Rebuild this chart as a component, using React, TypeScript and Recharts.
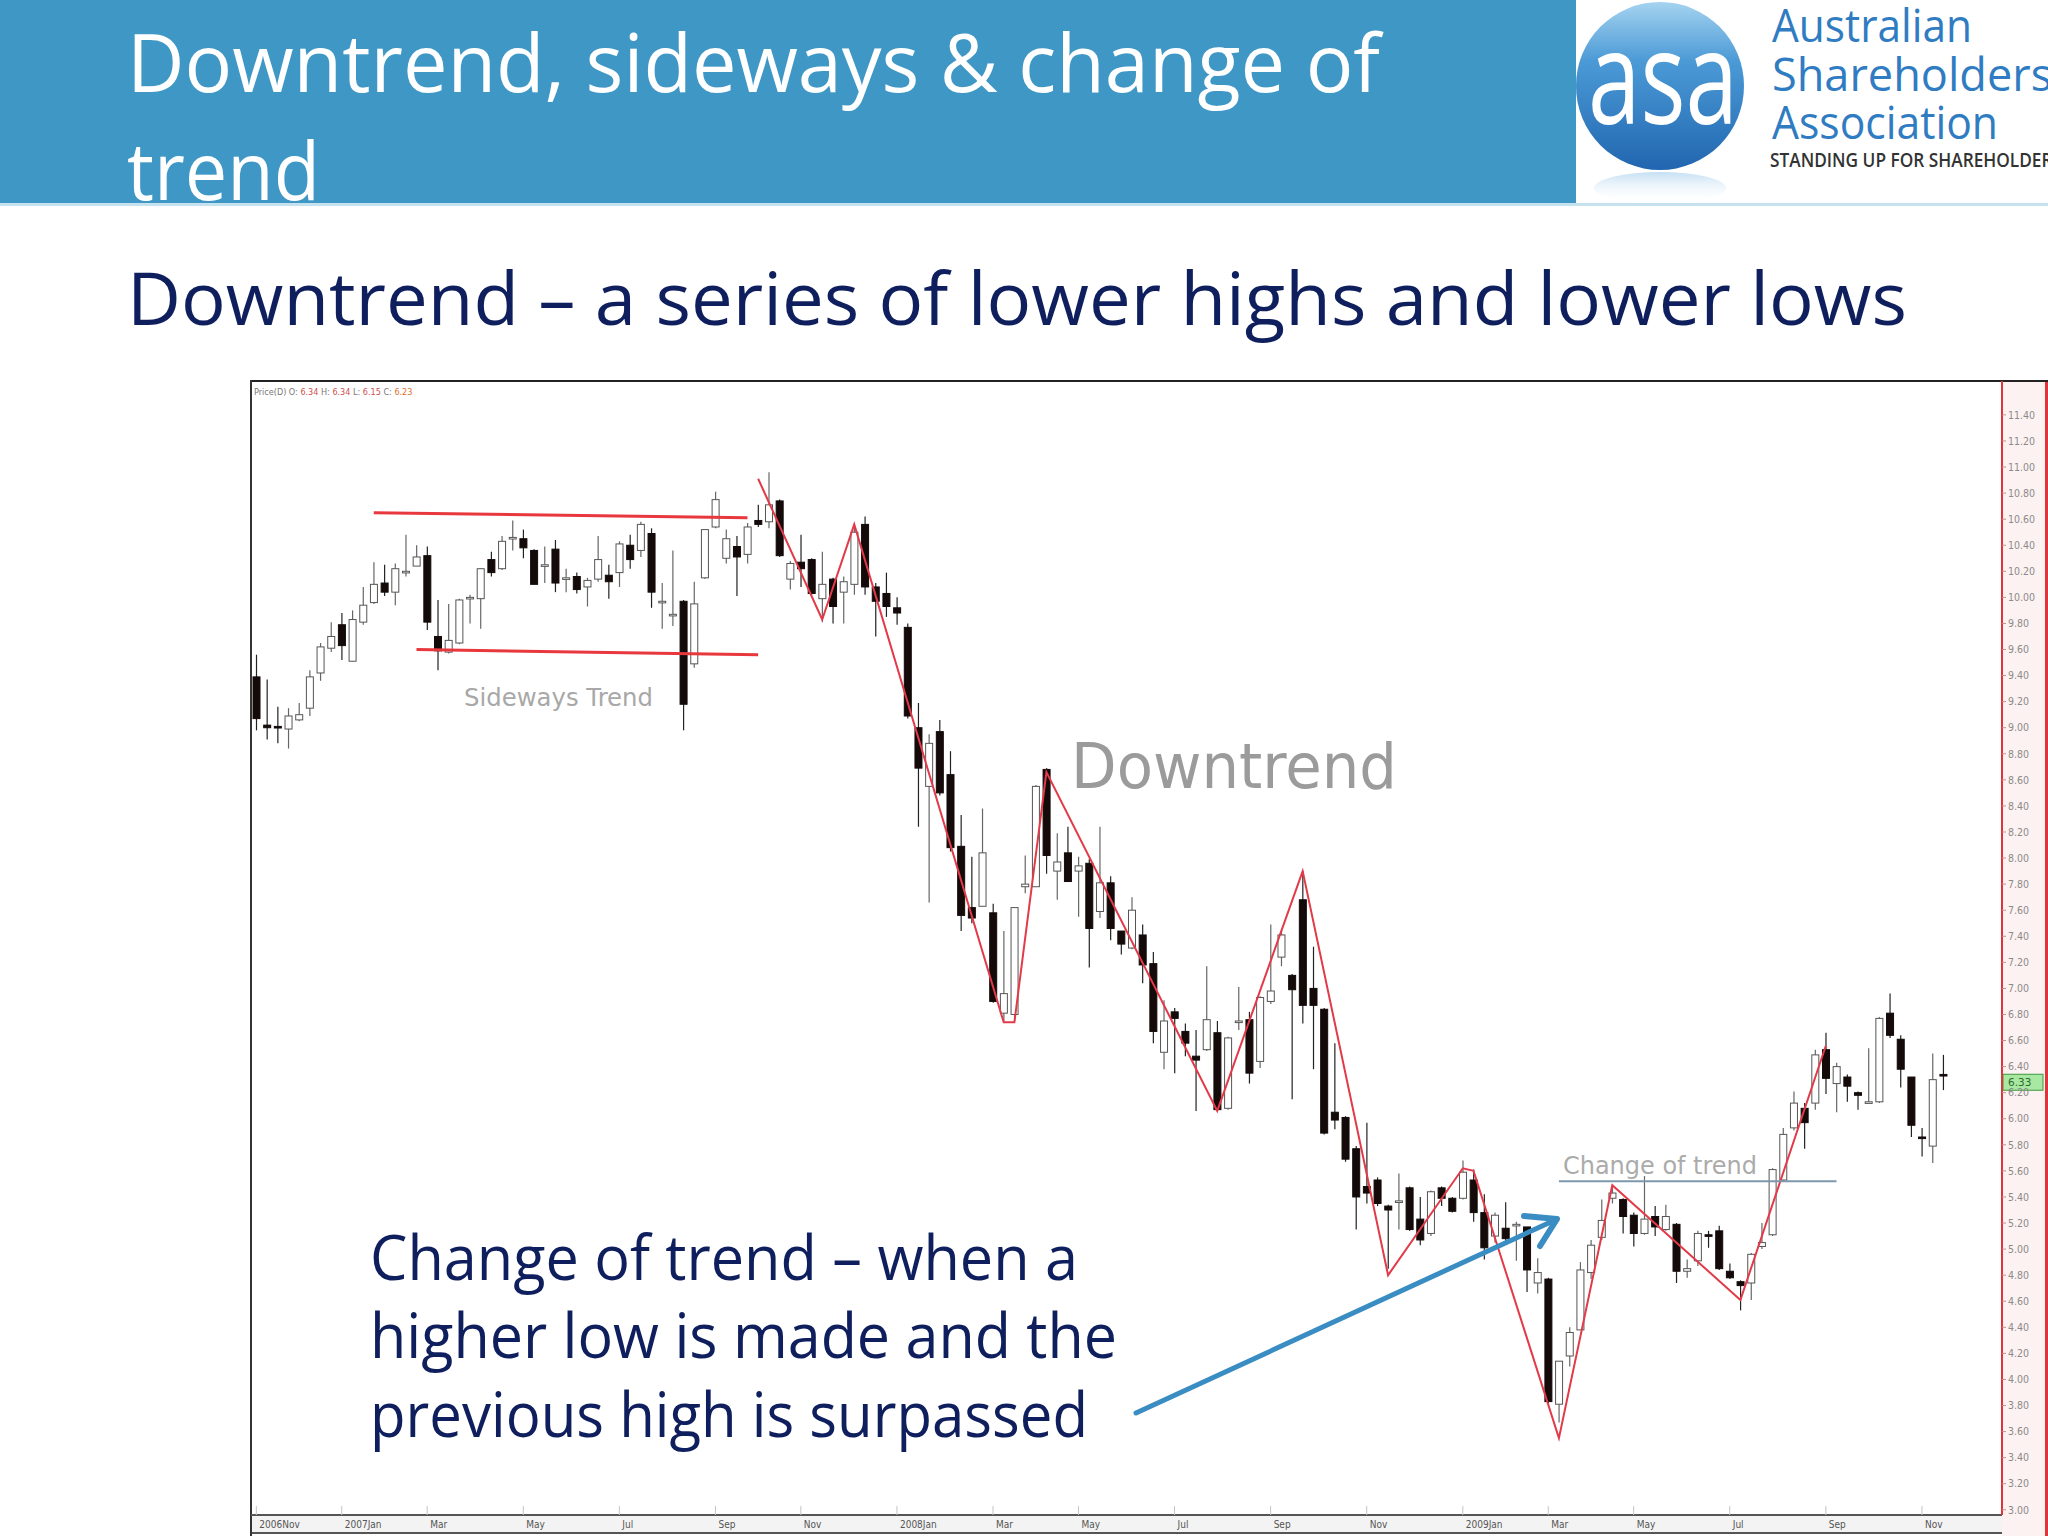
import React from 'react';
import { ComposedChart, Bar, Line, XAxis, YAxis, ReferenceLine } from 'recharts';

// weekly candles, Nov 2006 .. Nov 2009
const opens = [
  9.39, 9.02, 9.01, 8.99, 9.06, 9.15, 9.42, 9.61, 9.79, 9.51,
  9.81, 9.96, 10.11, 10.04, 10.19, 10.24, 10.32, 9.70, 9.58, 9.65,
  9.99, 9.99, 10.29, 10.22, 10.45, 10.45, 10.36, 10.24, 10.37, 10.14,
  10.16, 10.08, 10.14, 10.17, 10.19, 10.40, 10.36, 10.49, 9.96, 9.86,
  9.97, 9.49, 10.15, 10.54, 10.30, 10.39, 10.33, 10.59, 10.58, 10.74,
  10.14, 10.27, 10.29, 9.99, 10.14, 10.04, 10.10, 10.56, 10.08, 10.03,
  9.92, 9.77, 9.00, 8.55, 8.97, 8.64, 8.09, 7.62, 7.63, 7.58,
  6.81, 6.80, 7.78, 7.78, 8.68, 7.90, 8.04, 7.90, 7.96, 7.59,
  7.81, 7.44, 7.31, 7.41, 7.19, 6.51, 6.82, 6.67, 6.48, 6.53,
  6.66, 6.08, 6.74, 6.76, 6.44, 6.90, 7.24, 7.10, 7.68, 7.00,
  6.84, 6.05, 6.01, 5.77, 5.48, 5.53, 5.33, 5.36, 5.47, 5.23,
  5.12, 5.47, 5.39, 5.39, 5.53, 5.28, 5.10, 5.16, 5.18, 5.17,
  4.74, 4.77, 3.81, 4.18, 4.38, 4.82, 5.09, 5.39, 5.38, 5.26,
  5.12, 5.25, 5.15, 5.19, 4.83, 4.91, 5.11, 5.14, 4.83, 4.75,
  4.74, 5.02, 5.11, 5.53, 5.93, 6.08, 6.12, 6.53, 6.27, 6.32,
  6.20, 6.13, 6.13, 6.81, 6.61, 6.32, 5.86, 5.79, 6.34,
];
const highs = [
  9.56, 9.37, 9.16, 9.15, 9.19, 9.44, 9.65, 9.81, 9.88, 9.90,
  10.08, 10.27, 10.25, 10.26, 10.48, 10.40, 10.39, 9.98, 9.95, 9.99,
  10.02, 10.22, 10.35, 10.47, 10.59, 10.52, 10.37, 10.39, 10.44, 10.22,
  10.19, 10.15, 10.47, 10.25, 10.43, 10.48, 10.58, 10.53, 10.11, 10.36,
  9.98, 10.12, 10.52, 10.81, 10.52, 10.47, 10.57, 10.71, 10.96, 10.75,
  10.28, 10.48, 10.30, 10.35, 10.15, 10.16, 10.55, 10.62, 10.11, 10.19,
  10.00, 9.80, 9.19, 8.95, 9.06, 8.82, 8.33, 8.01, 8.38, 7.65,
  7.44, 7.62, 8.02, 8.56, 8.69, 8.19, 8.24, 8.01, 7.99, 8.24,
  7.86, 7.44, 7.70, 7.49, 7.28, 6.91, 6.85, 6.73, 6.68, 7.17,
  6.75, 6.63, 7.01, 6.82, 6.94, 7.49, 7.45, 7.11, 7.90, 7.32,
  6.85, 6.58, 6.02, 5.79, 5.97, 5.55, 5.34, 5.58, 5.48, 5.40,
  5.45, 5.48, 5.40, 5.68, 5.61, 5.42, 5.28, 5.36, 5.21, 5.17,
  4.93, 4.78, 4.14, 4.40, 4.90, 5.07, 5.38, 5.48, 5.39, 5.28,
  5.56, 5.33, 5.34, 5.20, 4.92, 5.14, 5.14, 5.18, 4.89, 4.76,
  4.97, 5.20, 5.62, 5.93, 6.21, 6.12, 6.53, 6.66, 6.43, 6.34,
  6.21, 6.54, 6.78, 6.96, 6.64, 6.32, 5.93, 6.50, 6.49,
];
const lows = [
  8.98, 8.91, 8.88, 8.84, 9.05, 9.09, 9.36, 9.58, 9.52, 9.51,
  9.79, 9.95, 10.01, 9.94, 10.16, 10.24, 9.75, 9.44, 9.57, 9.64,
  9.80, 9.76, 10.16, 10.21, 10.36, 10.30, 10.10, 10.11, 10.04, 10.04,
  10.03, 9.93, 10.12, 9.99, 10.08, 10.22, 10.31, 9.92, 9.76, 9.78,
  8.98, 9.46, 10.14, 10.53, 10.26, 10.01, 10.26, 10.54, 10.53, 10.31,
  10.06, 10.08, 10.02, 9.81, 9.80, 9.80, 10.02, 10.02, 9.70, 9.85,
  9.79, 9.07, 8.24, 7.66, 8.48, 8.05, 7.44, 7.50, 7.63, 6.89,
  6.75, 6.75, 7.73, 7.78, 7.88, 7.68, 7.82, 7.55, 7.16, 7.54,
  7.37, 7.26, 7.30, 7.04, 6.58, 6.38, 6.35, 6.48, 6.06, 6.52,
  6.06, 6.07, 6.68, 6.27, 6.39, 6.88, 7.17, 6.15, 6.73, 6.38,
  5.88, 5.92, 5.67, 5.15, 5.35, 5.33, 4.85, 5.15, 5.14, 5.03,
  5.10, 5.33, 5.28, 5.38, 5.21, 4.92, 5.05, 5.04, 4.91, 4.67,
  4.66, 3.82, 3.67, 4.10, 4.38, 4.77, 5.07, 5.35, 5.12, 5.02,
  5.11, 5.10, 5.14, 4.74, 4.78, 4.87, 5.01, 4.84, 4.77, 4.53,
  4.61, 5.00, 5.10, 5.52, 5.91, 5.77, 6.07, 6.19, 6.05, 6.13,
  6.07, 6.12, 6.12, 6.62, 6.24, 5.86, 5.71, 5.66, 6.22,
];
const closes = [
  9.07, 9.00, 9.00, 9.09, 9.10, 9.39, 9.62, 9.70, 9.63, 9.83,
  9.94, 10.10, 10.04, 10.22, 10.20, 10.31, 9.81, 9.59, 9.67, 9.98,
  10.00, 10.22, 10.19, 10.43, 10.46, 10.38, 10.10, 10.25, 10.11, 10.15,
  10.06, 10.13, 10.29, 10.12, 10.41, 10.29, 10.56, 10.04, 9.97, 9.87,
  9.18, 9.95, 10.52, 10.75, 10.45, 10.31, 10.54, 10.56, 10.71, 10.32,
  10.26, 10.22, 10.03, 10.10, 9.93, 10.12, 10.50, 10.08, 9.97, 9.93,
  9.88, 9.09, 8.69, 8.88, 8.50, 8.08, 7.56, 7.54, 8.04, 6.90,
  6.96, 7.62, 7.80, 8.55, 8.02, 7.97, 7.82, 7.94, 7.46, 7.81,
  7.46, 7.34, 7.60, 7.18, 6.67, 6.75, 6.77, 6.58, 6.45, 6.76,
  6.07, 6.62, 6.75, 6.35, 6.93, 6.98, 7.41, 6.99, 6.87, 6.87,
  5.89, 5.99, 5.69, 5.40, 5.43, 5.35, 5.30, 5.37, 5.15, 5.07,
  5.44, 5.39, 5.29, 5.59, 5.28, 5.01, 5.26, 5.08, 5.19, 4.84,
  4.82, 3.83, 4.14, 4.36, 4.84, 5.03, 5.22, 5.43, 5.25, 5.12,
  5.23, 5.17, 5.25, 4.83, 4.85, 5.12, 5.10, 4.85, 4.78, 4.72,
  4.96, 5.05, 5.61, 5.88, 6.12, 5.97, 6.49, 6.31, 6.40, 6.25,
  6.18, 6.13, 6.77, 6.64, 6.38, 5.95, 5.85, 6.30, 6.33,
];

// hand-drawn trend annotations (week index / price)
const zigIdx = [47, 53, 56, 70, 71, 74, 90, 98, 106, 113, 114, 122, 127, 139, 147];
const zigPrice = [10.91, 9.83, 10.56, 6.74, 6.74, 8.66, 6.06, 7.9, 4.8, 5.62, 5.6, 3.55, 5.49, 4.61, 6.56];
const sideTopIdx = [11, 46];
const sideTopPrice = [10.65, 10.61];
const sideBotIdx = [15, 47];
const sideBotPrice = [9.6, 9.56];
const changeIdx = [122, 148];
const changePrice = [5.52, 5.52];

const monthIdx = [0, 8, 16, 25, 34, 43, 51, 60, 69, 77, 86, 95, 104, 113, 121, 129, 138, 147, 156];
const monthLabels = ['2006Nov', '2007Jan', 'Mar', 'May', 'Jul', 'Sep', 'Nov', '2008Jan', 'Mar', 'May', 'Jul', 'Sep', 'Nov', '2009Jan', 'Mar', 'May', 'Jul', 'Sep', 'Nov'];
const priceTicks = [
  3.0, 3.2, 3.4, 3.6, 3.8, 4.0, 4.2, 4.4, 4.6, 4.8, 5.0, 5.2, 5.4, 5.6, 5.8,
  6.0, 6.2, 6.4, 6.6, 6.8, 7.0, 7.2, 7.4, 7.6, 7.8, 8.0, 8.2, 8.4, 8.6, 8.8,
  9.0, 9.2, 9.4, 9.6, 9.8, 10.0, 10.2, 10.4, 10.6, 10.8, 11.0, 11.2, 11.4,
];
const lastPrice = 6.28;
const SLOTS = 164;

const pick = (idx: number[], vals: number[], i: number) => {
  const k = idx.indexOf(i);
  return k >= 0 ? vals[k] : null;
};

const data = Array.from({ length: SLOTS }, (_, i) => {
  const has = i < opens.length;
  return {
    w: String(i),
    o: has ? opens[i] : null,
    h: has ? highs[i] : null,
    l: has ? lows[i] : null,
    c: has ? closes[i] : null,
    range: has ? [lows[i], highs[i]] : null,
    zig: pick(zigIdx, zigPrice, i),
    top: pick(sideTopIdx, sideTopPrice, i),
    bot: pick(sideBotIdx, sideBotPrice, i),
    chg: pick(changeIdx, changePrice, i),
  };
});

const Candle = (props: any) => {
  const { x, y, width, height, payload } = props;
  if (!payload || payload.o == null) return null;
  const { o, c, h, l } = payload;
  const top0 = Math.min(y, y + height);
  const hh = Math.abs(height);
  const span = h - l;
  const py = (p: number) => (span > 0 ? top0 + ((h - p) / span) * hh : top0);
  const cx = x + width / 2;
  const up = c >= o;
  const bt = py(Math.max(o, c));
  const bb = py(Math.min(o, c));
  return (
    <g>
      <line x1={cx} x2={cx} y1={top0} y2={top0 + hh} stroke={up ? '#666' : '#222'} strokeWidth={1.2} />
      <rect
        x={x}
        y={bt}
        width={width}
        height={Math.max(bb - bt, 1.6)}
        fill={up ? '#ffffff' : '#140a0a'}
        stroke={up ? '#555' : '#140a0a'}
        strokeWidth={1}
      />
    </g>
  );
};

const MonthTick = (props: any) => {
  const { x, y, payload } = props;
  const k = monthIdx.indexOf(Number(payload.value));
  return (
    <g>
      <line x1={x} x2={x} y1={y} y2={y - 9} stroke="#c4c4c4" strokeWidth={1} />
      <text x={x + 3} y={y + 13} fontSize={10} fill="#555" fontFamily="DejaVu Sans Condensed, DejaVu Sans">
        {monthLabels[k]}
      </text>
    </g>
  );
};

const PriceTag = (props: any) => {
  const vb = props.viewBox || {};
  const x = (vb.x || 0) + (vb.width || 0) + 1;
  const y = vb.y || 0;
  return (
    <g>
      <rect x={x} y={y - 8} width={40} height={16} fill="#a9e8a2" stroke="#3d9a3d" strokeWidth={1} />
      <text x={x + 5} y={y + 4} fontSize={10.5} fill="#2a6a2a" fontFamily="DejaVu Sans">6.33</text>
    </g>
  );
};

const font = "'Open Sans', 'Noto Sans', sans-serif";

export default function App() {
  return (
    <div style={{ position: 'absolute', left: 0, top: 0, width: 2048, height: 1536, overflow: 'hidden', background: '#fff' }}>
      {/* header */}
      <svg width={2048} height={210} style={{ position: 'absolute', left: 0, top: 0 }}>
        <defs>
          <linearGradient id="asaBall" x1="0" y1="0" x2="0" y2="1">
            <stop offset="0%" stopColor="#a5d3f0" />
            <stop offset="35%" stopColor="#4b9ad6" />
            <stop offset="100%" stopColor="#2166b0" />
          </linearGradient>
          <linearGradient id="asaRefl" x1="0" y1="0" x2="0" y2="1">
            <stop offset="0%" stopColor="#9fcbeb" stopOpacity={0.6} />
            <stop offset="100%" stopColor="#ffffff" stopOpacity={0} />
          </linearGradient>
          <clipPath id="barClip">
            <rect x={0} y={0} width={1576} height={203} />
          </clipPath>
        </defs>
        <rect x={0} y={0} width={1576} height={203} fill="#3f97c5" />
        <rect x={0} y={203} width={2048} height={3} fill="#c6e2ef" />
        <text x={127} y={92} fontSize={80} fill="#fff" fontFamily={font} textLength={1253} lengthAdjust="spacingAndGlyphs">
          Downtrend, sideways &amp; change of
        </text>
        <text x={127} y={200} fontSize={80} fill="#fff" fontFamily={font} textLength={193} lengthAdjust="spacingAndGlyphs" clipPath="url(#barClip)">
          trend
        </text>
        <ellipse cx={1660} cy={188} rx={66} ry={16} fill="url(#asaRefl)" />
        <circle cx={1660} cy={86} r={84} fill="url(#asaBall)" />
        <text x={1588} y={124} fontSize={130} fill="#fff" fontFamily={font} textLength={150} lengthAdjust="spacingAndGlyphs">
          asa
        </text>
        <text x={1772} y={42} fontSize={46} fill="#2f7cc2" fontFamily={font} textLength={200} lengthAdjust="spacingAndGlyphs">
          Australian
        </text>
        <text x={1772} y={91} fontSize={46} fill="#2f7cc2" fontFamily={font} textLength={290} lengthAdjust="spacingAndGlyphs">
          Shareholders'
        </text>
        <text x={1772} y={139} fontSize={46} fill="#2f7cc2" fontFamily={font} textLength={226} lengthAdjust="spacingAndGlyphs">
          Association
        </text>
        <text x={1770} y={167} fontSize={19} fontWeight={600} fill="#333" fontFamily={font} textLength={292} lengthAdjust="spacingAndGlyphs">
          STANDING UP FOR SHAREHOLDERS
        </text>
      </svg>

      <svg width={2048} height={360} style={{ position: 'absolute', left: 0, top: 0 }}>
        <text x={127} y={325} fontSize={73} fill="#0f1f5e" fontFamily={font} textLength={1780} lengthAdjust="spacingAndGlyphs">
          Downtrend – a series of lower highs and lower lows
        </text>
      </svg>

      {/* chart frame pieces */}
      <div style={{ position: 'absolute', left: 2002, top: 381, width: 46, height: 1155, background: '#fdf2f2' }} />
      <div style={{ position: 'absolute', left: 251, top: 1515, width: 1751, height: 18, background: '#f3f3f3' }} />
      <div style={{ position: 'absolute', left: 251, top: 1532, width: 1751, height: 2, background: '#555' }} />
      <div style={{ position: 'absolute', left: 2045, top: 381, width: 3, height: 1155, background: '#e0343c' }} />
      <div style={{ position: 'absolute', left: 250, top: 380, width: 1798, height: 2, background: '#222' }} />
      <div style={{ position: 'absolute', left: 250, top: 380, width: 2, height: 1156, background: '#333' }} />

      <div style={{ position: 'absolute', left: 0, top: 0 }}>
        <ComposedChart width={2048} height={1536} data={data} margin={{ top: 381, right: 0, bottom: 0, left: 251 }}>
          <XAxis
            dataKey="w"
            type="category"
            ticks={monthIdx.map(String)}
            interval={0}
            height={21}
            tickSize={0}
            tickMargin={0}
            tickLine={false}
            axisLine={{ stroke: '#555', strokeWidth: 2 }}
            tick={<MonthTick />}
          />
          <YAxis
            orientation="right"
            type="number"
            domain={[2.96, 11.66]}
            ticks={priceTicks}
            interval={0}
            width={46}
            tickSize={4}
            tickMargin={2}
            tickFormatter={(v: number) => v.toFixed(2)}
            tick={{ fontSize: 10.5, fill: '#8a8a8a', fontFamily: 'DejaVu Sans Condensed, DejaVu Sans' }}
            tickLine={{ stroke: '#c98a8a' }}
            axisLine={{ stroke: '#e0343c', strokeWidth: 2 }}
          />
          <Bar dataKey="range" barSize={7} shape={<Candle />} isAnimationActive={false} />
          <Line dataKey="top" type="linear" stroke="#e8383e" strokeWidth={3} dot={false} activeDot={false} connectNulls isAnimationActive={false} />
          <Line dataKey="bot" type="linear" stroke="#e8383e" strokeWidth={3} dot={false} activeDot={false} connectNulls isAnimationActive={false} />
          <Line dataKey="zig" type="linear" stroke="#e23a48" strokeWidth={2} dot={false} activeDot={false} connectNulls isAnimationActive={false} />
          <Line dataKey="chg" type="linear" stroke="#7d98ad" strokeWidth={2} dot={false} activeDot={false} connectNulls isAnimationActive={false} />
          <ReferenceLine y={lastPrice} stroke="none" label={<PriceTag />} />
        </ComposedChart>
      </div>

      {/* annotations */}
      <svg width={2048} height={1536} style={{ position: 'absolute', left: 0, top: 0, pointerEvents: 'none' }}>
        <text x={254} y={395} fontSize={9} fontFamily="DejaVu Sans Condensed, DejaVu Sans" fill="#777">
          Price(D) O: <tspan fill="#d05050">6.34</tspan> H: <tspan fill="#d05050">6.34</tspan> L: <tspan fill="#d05050">6.15</tspan> C: <tspan fill="#e07030">6.23</tspan>
        </text>
        <text x={464} y={706} fontSize={25} fill="#a8a8a8" fontFamily="DejaVu Sans" textLength={189} lengthAdjust="spacingAndGlyphs">
          Sideways Trend
        </text>
        <text x={1071} y={788} fontSize={62} fill="#9b9b9b" fontFamily="DejaVu Sans" textLength={326} lengthAdjust="spacingAndGlyphs">
          Downtrend
        </text>
        <text x={1563} y={1174} fontSize={24} fill="#ababab" fontFamily="DejaVu Sans" textLength={194} lengthAdjust="spacingAndGlyphs">
          Change of trend
        </text>
        <text x={370} y={1280} fontSize={62} fill="#0f1f5e" fontFamily={font} textLength={708} lengthAdjust="spacingAndGlyphs">
          Change of trend – when a
        </text>
        <text x={370} y={1358} fontSize={62} fill="#0f1f5e" fontFamily={font} textLength={747} lengthAdjust="spacingAndGlyphs">
          higher low is made and the
        </text>
        <text x={370} y={1437} fontSize={62} fill="#0f1f5e" fontFamily={font} textLength={718} lengthAdjust="spacingAndGlyphs">
          previous high is surpassed
        </text>
        <line x1={1136} y1={1413} x2={1553} y2={1221} stroke="#3a8dc2" strokeWidth={5} strokeLinecap="round" />
        <polyline points="1524,1216 1557,1219 1540,1246" fill="none" stroke="#3a8dc2" strokeWidth={6} strokeLinecap="round" strokeLinejoin="round" />
      </svg>
    </div>
  );
}
